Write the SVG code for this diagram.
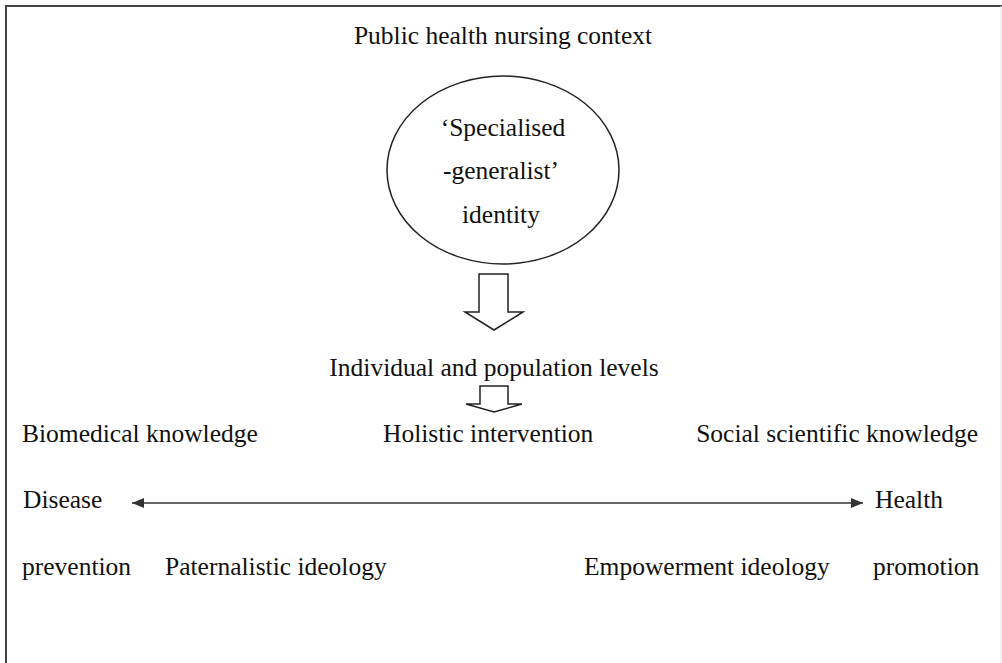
<svg xmlns="http://www.w3.org/2000/svg" width="1002" height="663" viewBox="0 0 1002 663">
<style>
text{font-family:"Liberation Serif","Times New Roman",serif;font-size:25.5px;fill:#111}
.c{text-anchor:middle}
.shape{fill:#fff;stroke:#222;stroke-width:1.5}
.link{stroke:#333;stroke-width:1.6;fill:none}
</style>
<defs>
<marker id="ah" viewBox="0 0 12 10" refX="12" refY="5" markerWidth="12" markerHeight="10" markerUnits="userSpaceOnUse" orient="auto-start-reverse">
<path d="M0,0 L12,5 L0,10 z" fill="#333"/>
</marker>
</defs>
<rect width="1002" height="663" fill="#fff"/>
<path d="M6,663 V6 H1002" fill="none" stroke="#444" stroke-width="2"/>
<line x1="1001" y1="6" x2="1001" y2="663" stroke="#e6e6e6" stroke-width="1"/>

<g id="context"><text class="c" x="503" y="44">Public health nursing context</text></g>
<g id="identity">
<ellipse class="shape" cx="503" cy="170" rx="116" ry="94"/>
<text class="c" x="503" y="136">‘Specialised</text>
<text class="c" x="501" y="179">-generalist’</text>
<text class="c" x="501" y="223">identity</text>
</g>
<g id="levels"><text class="c" x="494" y="376">Individual and population levels</text></g>
<g id="biomedical"><text x="22" y="442">Biomedical knowledge</text></g>
<g id="holistic"><text x="383" y="442">Holistic intervention</text></g>
<g id="social"><text x="978" y="442" text-anchor="end">Social scientific knowledge</text></g>
<g id="disease"><text x="23" y="508">Disease</text></g>
<g id="health"><text x="875" y="508">Health</text></g>
<g id="prevention"><text x="22" y="575">prevention</text></g>
<g id="paternalistic"><text x="165" y="575">Paternalistic ideology</text></g>
<g id="empowerment"><text x="584" y="575">Empowerment ideology</text></g>
<g id="promotion"><text x="873" y="575">promotion</text></g>

<g id="connectors">
<path class="shape" d="M479,274 H508 V312 H523 L494,330 L465,312 H479 Z"/>
<path class="shape" d="M480,386 H508 V404 H522 L494,412 L466,404 H480 Z"/>
<line class="link" x1="132" y1="503" x2="863" y2="503" marker-start="url(#ah)" marker-end="url(#ah)"/>
</g>
</svg>
